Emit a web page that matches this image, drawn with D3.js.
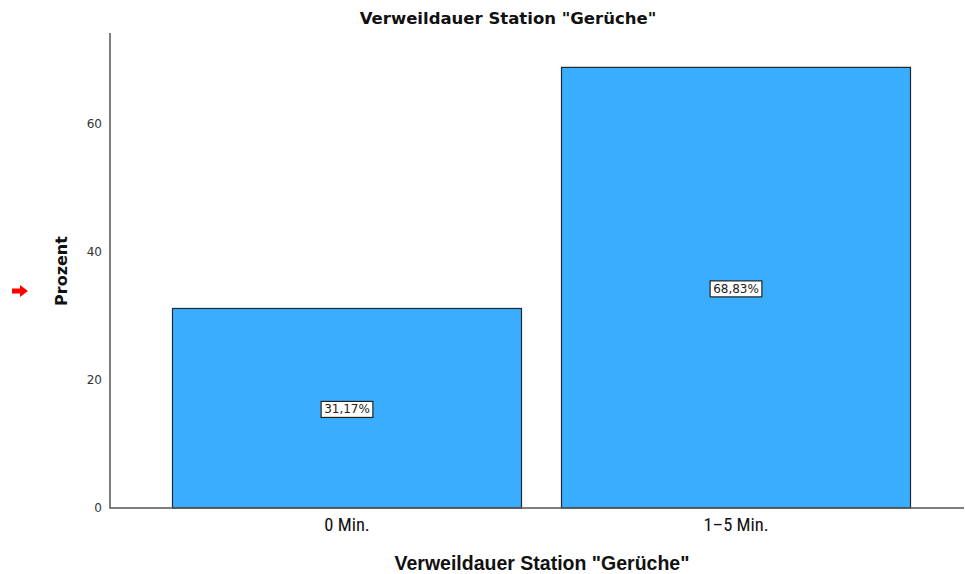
<!DOCTYPE html>
<html lang="de">
<head>
  <meta charset="utf-8">
  <title>Verweildauer Station "Gerüche"</title>
  <script src="https://d3js.org/d3.v7.min.js"></script>
  <style>
    body { margin: 0; background: #fff; }
    .tick-label { font: 12px "DejaVu Sans", sans-serif; fill: #333; }
  </style>
</head>
<body>
  <svg width="965" height="574"></svg>
  <script>
    var kategorien = ["0 Min.", "1\u20135 Min."];
    var prozente = [31.17, 68.83];
    var yTicks = [0, 20, 40, 60];
    var labels = ["31,17%", "68,83%"];

    var svg = d3.select("svg");
    var plotLeft = 110, plotRight = 964, plotTop = 33, plotBottom = 508;

    var x = d3.scaleBand()
        .domain(kategorien)
        .range([152.5, 930.5])
        .paddingInner(40 / 389)
        .paddingOuter(20 / 389);

    var y = d3.scaleLinear().domain([0, 74.2]).range([plotBottom, plotTop]);

    // titel
    svg.append("text")
        .attr("x", 508).attr("y", 24)
        .attr("text-anchor", "middle")
        .style("font", "bold 16.5px 'DejaVu Sans', sans-serif")
        .style("fill", "#111")
        .text('Verweildauer Station "Gerüche"');

    // balken
    svg.selectAll(".bar")
      .data(prozente)
      .enter().append("rect")
        .attr("class", "bar")
        .attr("x", function(d, i) { return x(kategorien[i]); })
        .attr("y", function(d) { return y(d); })
        .attr("width", x.bandwidth())
        .attr("height", function(d) { return y(0) - y(d); })
        .style("fill", "#3aadff")
        .style("stroke", "#1e2a33")
        .style("stroke-width", 1.2);

    // achsen
    svg.append("path")
        .attr("d", "M" + plotLeft + "," + plotTop + "V" + plotBottom + "H" + plotRight)
        .style("fill", "none")
        .style("stroke", "#555")
        .style("stroke-width", 1.5);

    svg.selectAll(".ytick")
      .data(yTicks)
      .enter().append("text")
        .attr("class", "tick-label")
        .attr("x", 102)
        .attr("y", function(d) { return y(d); })
        .attr("dy", "0.35em")
        .attr("text-anchor", "end")
        .text(function(d) { return d; });

    svg.selectAll(".xtick")
      .data(kategorien)
      .enter().append("text")
        .attr("x", function(d) { return x(d) + x.bandwidth() / 2; })
        .attr("y", 531)
        .attr("text-anchor", "middle")
        .style("font", "18.5px 'Liberation Sans Narrow', 'Roboto Condensed', 'Liberation Sans', sans-serif")
        .style("fill", "#111")
        .text(function(d) { return d; });

    // achsentitel
    svg.append("text")
        .attr("x", 542).attr("y", 570)
        .attr("text-anchor", "middle")
        .style("font", "bold 19.5px 'Liberation Sans Narrow', 'Liberation Sans', sans-serif")
        .style("fill", "#111")
        .text('Verweildauer Station "Gerüche"');

    svg.append("text")
        .attr("transform", "translate(67,271) rotate(-90)")
        .attr("text-anchor", "middle")
        .style("font", "bold 16px 'DejaVu Sans', sans-serif")
        .style("fill", "#111")
        .text("Prozent");

    // roter pfeil
    svg.append("path")
        .attr("d", "M12,288.5H20V285L28,291L20,297V293.5H12Z")
        .style("fill", "#f00");

    // wertelabels
    var lab = svg.selectAll(".lab")
      .data(prozente)
      .enter().append("g")
        .attr("transform", function(d, i) {
          return "translate(" + (x(kategorien[i]) + x.bandwidth() / 2) + "," + (y(d / 2) + 1) + ")";
        });

    lab.append("text")
        .attr("text-anchor", "middle")
        .attr("dy", "0.35em")
        .style("font", "12px 'DejaVu Sans', sans-serif")
        .style("fill", "#222")
        .text(function(d, i) { return labels[i]; });

    lab.insert("rect", "text")
        .each(function() {
          var bb = this.parentNode.querySelector("text").getBBox();
          d3.select(this)
            .attr("x", bb.x - 3).attr("y", bb.y - 1)
            .attr("width", bb.width + 6).attr("height", bb.height + 2);
        })
        .style("fill", "#fff")
        .style("stroke", "#222")
        .style("stroke-width", 1.2);
  </script>
</body>
</html>
